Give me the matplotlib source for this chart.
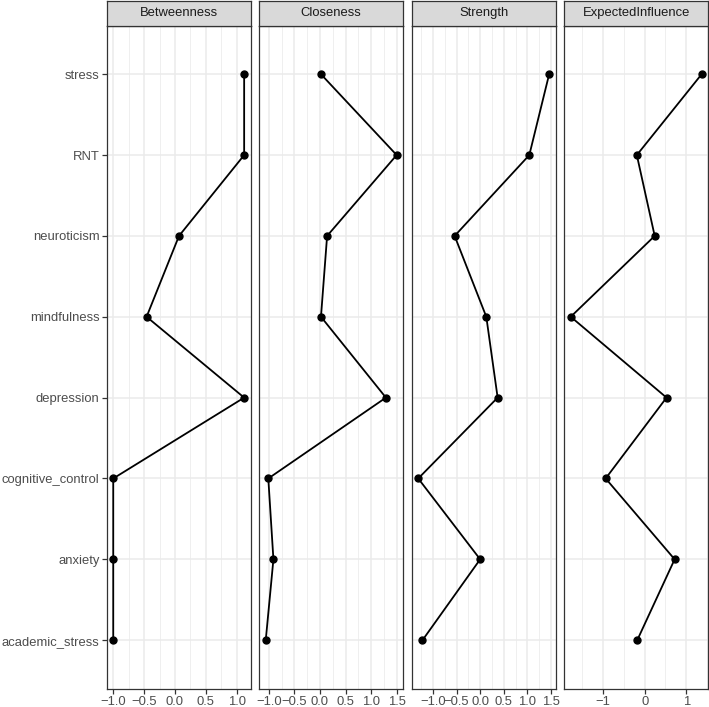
import matplotlib
matplotlib.use("Agg")
import matplotlib.pyplot as plt
from matplotlib.ticker import FixedLocator, FixedFormatter

plt.rcParams['font.family'] = ['Liberation Sans', 'DejaVu Sans']

# ---- data ----
nodes = ["academic_stress", "anxiety", "cognitive_control", "depression",
         "mindfulness", "neuroticism", "RNT", "stress"]  # bottom -> top

measures = ["Betweenness", "Closeness", "Strength", "ExpectedInfluence"]

betweenness = [-1.00, -1.00, -1.00, 1.12, -0.46, 0.065, 1.12, 1.12]
closeness = [-1.06, -0.91, -1.01, 1.29, 0.02, 0.14, 1.50, 0.02]
strength = [-1.22, 0.00, -1.31, 0.37, 0.13, -0.54, 1.04, 1.46]
expected_influence = [-0.18, 0.72, -0.94, 0.525, -1.78, 0.24, -0.19, 1.37]

values = [betweenness, closeness, strength, expected_influence]

major_ticks = [
    [-1.0, -0.5, 0.0, 0.5, 1.0],
    [-1.0, -0.5, 0.0, 0.5, 1.0, 1.5],
    [-1.0, -0.5, 0.0, 0.5, 1.0, 1.5],
    [-1, 0, 1],
]
tick_labels = [
    ["\u22121.0", "\u22120.5", "0.0", "0.5", "1.0"],
    ["\u22121.0", "\u22120.5", "0.0", "0.5", "1.0", "1.5"],
    ["\u22121.0", "\u22120.5", "0.0", "0.5", "1.0", "1.5"],
    ["\u22121", "0", "1"],
]
minor_ticks = [
    [-0.75, -0.25, 0.25, 0.75],
    [-0.75, -0.25, 0.25, 0.75, 1.25],
    [-1.25, -0.75, -0.25, 0.25, 0.75, 1.25],
    [-1.5, -0.5, 0.5, 1.5],
]

# ---- layout ----
W, H = 709, 707
fig = plt.figure(figsize=(W / 100, H / 100), dpi=100)
fig.patch.set_facecolor("white")

panel_lefts = [106.7, 259.2, 411.7, 564.2]
panel_w = 144.0
panel_bottom = 18.3
panel_h = 663.0
strip_h = 24.7

border_col = "#333333"
grid_col = "#EBEBEB"
text_col = "#4D4D4D"
fs = 9.4

ypos = list(range(len(nodes)))

for i, (name, vals) in enumerate(zip(measures, values)):
    ax = fig.add_axes([panel_lefts[i] / W, panel_bottom / H, panel_w / W, panel_h / H])
    lo, hi = min(vals), max(vals)
    span = hi - lo
    ax.set_xlim(lo - 0.05 * span, hi + 0.05 * span)
    ax.set_ylim(-0.6, len(nodes) - 1 + 0.6)

    # grid
    for x in minor_ticks[i]:
        ax.axvline(x, color=grid_col, lw=0.55, zorder=0)
    for x in major_ticks[i]:
        ax.axvline(x, color=grid_col, lw=1.1, zorder=0)
    for y in ypos:
        ax.axhline(y, color=grid_col, lw=1.1, zorder=0)

    ax.plot(vals, ypos, color="black", lw=1.3, zorder=2,
            solid_joinstyle="round")
    ax.plot(vals, ypos, "o", color="black", ms=5.0, zorder=3)

    ax.xaxis.set_major_locator(FixedLocator(major_ticks[i]))
    ax.xaxis.set_major_formatter(FixedFormatter(tick_labels[i]))
    ax.tick_params(axis="x", colors=border_col, labelcolor=text_col,
                   labelsize=fs, length=3.6, width=0.9, pad=1.5)
    ax.tick_params(axis="x", which="minor", length=0)

    if i == 0:
        ax.set_yticks(ypos)
        ax.set_yticklabels(nodes)
        ax.tick_params(axis="y", colors=border_col, labelcolor=text_col,
                       labelsize=fs, length=3.6, width=0.9, pad=1.5)
    else:
        ax.set_yticks([])

    for sp in ax.spines.values():
        sp.set_color(border_col)
        sp.set_linewidth(0.9)

    # strip
    sax = fig.add_axes([panel_lefts[i] / W, (panel_bottom + panel_h) / H,
                        panel_w / W, strip_h / H])
    sax.set_facecolor("#D9D9D9")
    sax.set_xticks([])
    sax.set_yticks([])
    for sp in sax.spines.values():
        sp.set_color(border_col)
        sp.set_linewidth(0.9)
    sax.text(0.5, 0.5, name, transform=sax.transAxes, ha="center",
             va="center", fontsize=fs, color="#1A1A1A")

fig.savefig("out.png", dpi=100, facecolor="white")
